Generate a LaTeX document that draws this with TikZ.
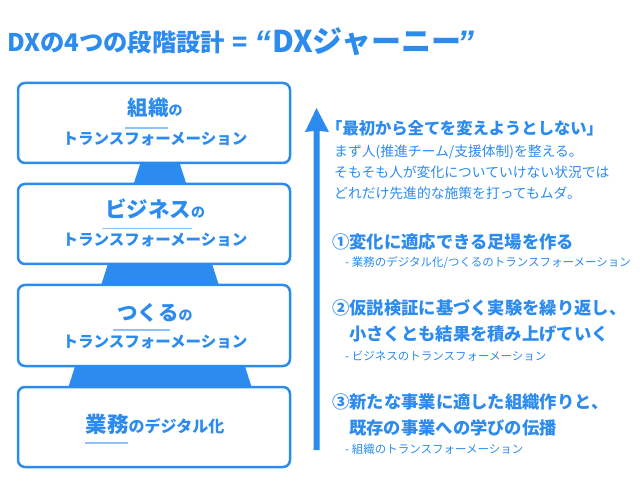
\documentclass[tikz,border=0pt]{standalone}
\usepackage{fontspec}
\setmainfont{Noto Sans CJK JP}
\newfontfamily\latfont{Liberation Sans}
\definecolor{mainblue}{HTML}{2B8BEF}
\definecolor{lightblue}{HTML}{8EC1F7}
\newcommand\setfs[1]{\fontsize{#1}{#1}\selectfont}
\begin{document}
\begin{tikzpicture}[x=1pt,y=-1pt,
  txt/.style={inner sep=0pt, anchor=base west, text=mainblue},
  ctxt/.style={inner sep=0pt, anchor=base, text=mainblue},
  stage/.style={draw=mainblue, line width=2.5pt, fill=white, rounded corners=7pt},
  uline/.style={draw=lightblue, line width=1.8pt},
  head/.style={txt, font=\bfseries\setfs{17.3}},
  sub/.style={txt, font=\setfs{11.5}},
  body/.style={txt, font=\setfs{13.8}}]
\useasboundingbox (0,0) rectangle (640,478);
% title
\node[txt, font=\bfseries\setfs{24.3}] (t1) at (7,52) {DXの4つの段階設計};
\node[txt, font=\bfseries\setfs{25}] (t2) at (232,52) {=};
\node[txt, font=\latfont\bfseries\itshape\setfs{34}] (tq1) at (254,55) {“};
\node[txt, font=\bfseries\setfs{30}] (t3) at (272,53) {DXジャーニー};
\node[txt, font=\latfont\bfseries\itshape\setfs{34}] (tq2) at (457,55) {”};
% pyramid behind
\fill[mainblue] (160,102) -- (277,466) -- (43,466) -- cycle;
% stage boxes
\draw[stage] (18,83) rectangle (290,163);
\draw[stage] (18,184) rectangle (290,264);
\draw[stage] (18,285) rectangle (290,366);
\draw[stage] (18,387) rectangle (290,467);
% box 1
\node[ctxt, font=\bfseries] (b1a) at (155,115.5) {{\setfs{20.5}組織}{\setfs{14}の}};
\draw[uline] (125,128) -- (168,128);
\node[ctxt, font=\bfseries\setfs{15.5}] (b1b) at (155,145) {トランスフォーメーション};
% box 2
\node[ctxt, font=\bfseries] (b2a) at (155,218) {{\setfs{21.5}ビジネス}{\setfs{14}の}};
\draw[uline] (102,228.5) -- (192,228.5);
\node[ctxt, font=\bfseries\setfs{15.5}] (b2b) at (155,246) {トランスフォーメーション};
% box 3
\node[ctxt, font=\bfseries] (b3a) at (155,320) {{\setfs{20.5}つくる}{\setfs{14}の}};
\draw[uline] (113,330) -- (170,330);
\node[ctxt, font=\bfseries\setfs{15.5}] (b3b) at (155,347.5) {トランスフォーメーション};
% box 4
\node[ctxt, font=\bfseries] (b4a) at (155,432) {{\setfs{21.5}業務}{\setfs{16}のデジタル化}};
\draw[uline] (85,443) -- (128,443);
% arrow
\coordinate (abot) at (316.5,450);
\coordinate (atip) at (316.5,108);
\fill[mainblue] (313.5,450) -- (313.5,131) -- (305,132) -- (atip) -- (329,132) -- (319.5,131) -- (319.5,450) -- cycle;
% right texts
\node[txt, font=\bfseries\setfs{16.3}] (q) at (326,135) {「最初から全てを変えようとしない」};
\node[body] (p1) at (334,157) {まず人(推進チーム/支援体制)を整える。};
\node[body] (p2) at (334,178) {そもそも人が変化についていけない状況では};
\node[body] (p3) at (334,199) {どれだけ先進的な施策を打ってもムダ。};
\node[head] (h1) at (332,248.5) {①変化に適応できる足場を作る};
\node[sub] (s1) at (345,267) {- 業務のデジタル化/つくるのトランスフォーメーション};
\node[head] (h2a) at (332,314.5) {②仮説検証に基づく実験を繰り返し、};
\node[head] (h2b) at (349,340.5) {小さくとも結果を積み上げていく};
\node[sub] (s2) at (345,360.5) {- ビジネスのトランスフォーメーション};
\node[head] (h3a) at (332,408.5) {③新たな事業に適した組織作りと、};
\node[head] (h3b) at (349,434.5) {既存の事業への学びの伝播};
\node[sub] (s3) at (345,453.5) {- 組織のトランスフォーメーション};
\end{tikzpicture}
\end{document}
